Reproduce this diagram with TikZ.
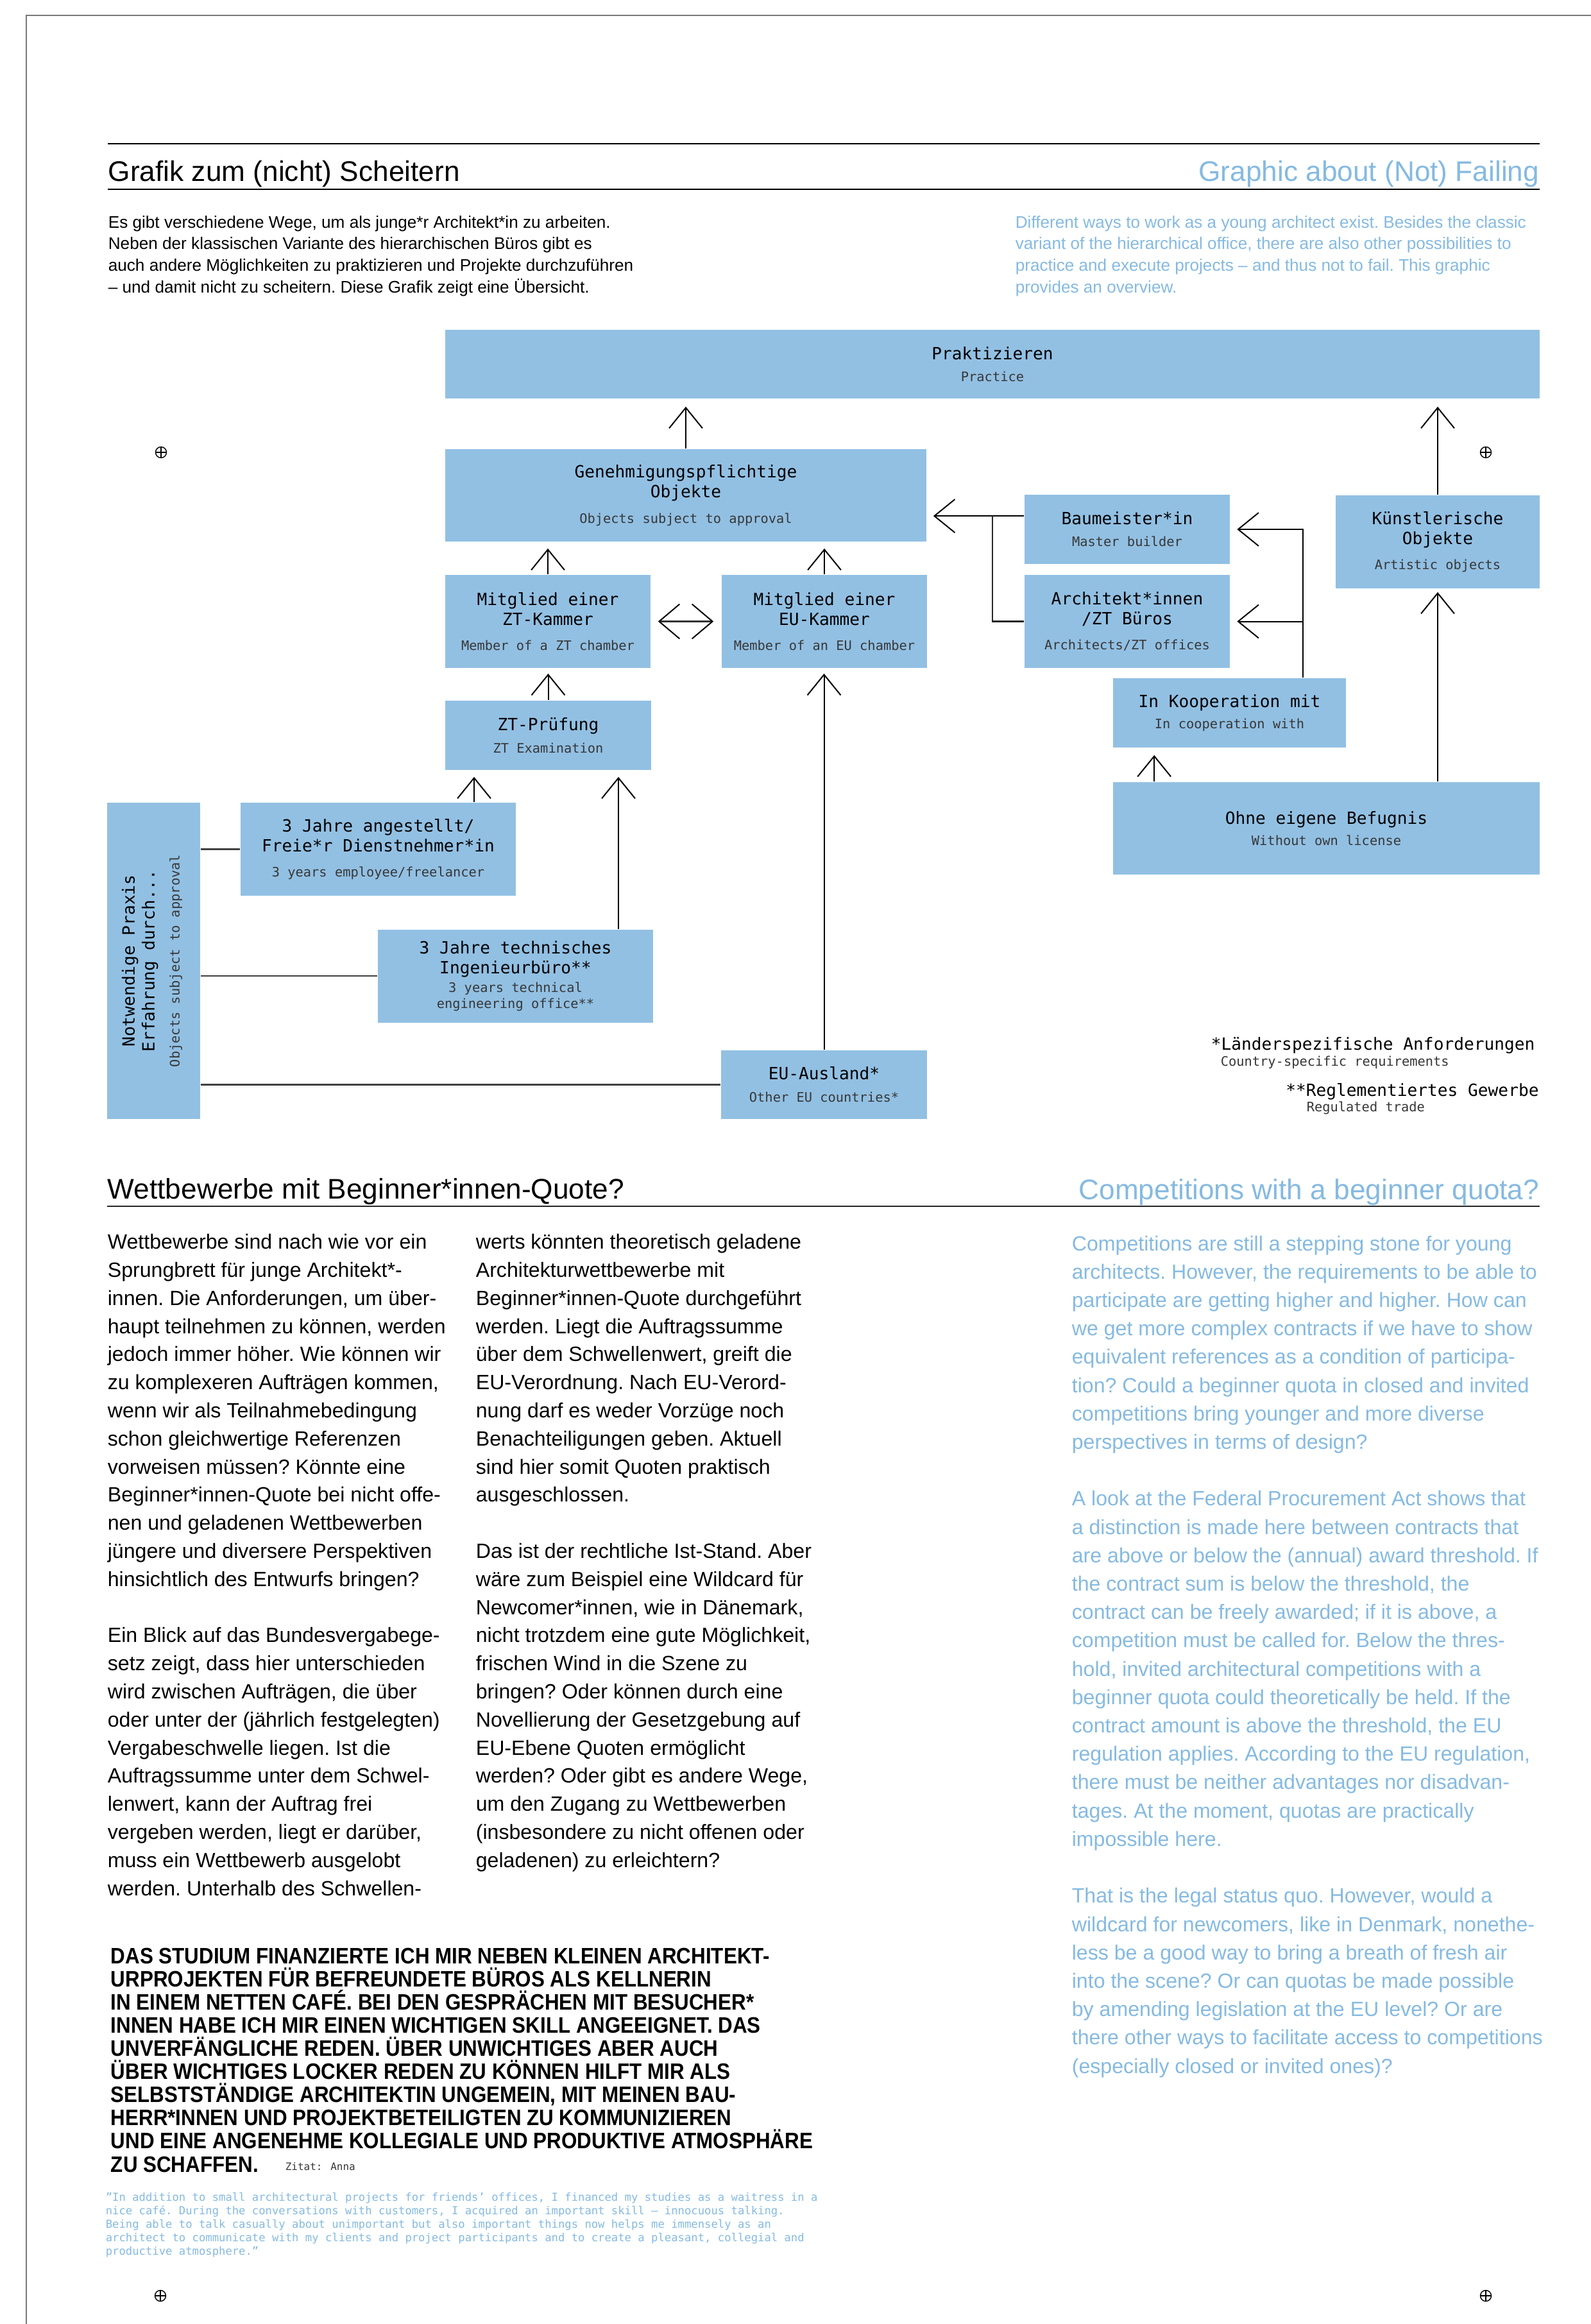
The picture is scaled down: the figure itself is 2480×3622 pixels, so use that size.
\documentclass[tikz,border=0pt]{standalone}
\usepackage{fontspec}
\setmainfont{Liberation Sans}
\newfontfamily\monof{DejaVu Sans Mono}
\newfontfamily\handf[FakeStretch=0.9]{Liberation Sans}
\usetikzlibrary{arrows.meta,calc}
\newdimen\PX \PX=0.2409pt
\definecolor{boxblue}{RGB}{146,192,227}
\definecolor{engblue}{RGB}{133,186,225}
\definecolor{subgray}{RGB}{55,55,55}
\definecolor{framegray}{RGB}{120,120,120}
\newcommand\nmain{\monof\fontsize{6.31pt}{7.47pt}\selectfont}
\newcommand\nsub{\monof\fontsize{4.91pt}{5.9pt}\selectfont}
\newcommand\sublab[1]{{\nsub\color{subgray}#1}}
\newcommand\bodyfont{\frenchspacing\fontsize{7.74pt}{10.55pt}\selectfont}
\newcommand\bodyfonten{\frenchspacing\fontsize{7.74pt}{10.65pt}\selectfont}
\newcommand\introfont{\frenchspacing\fontsize{6.3pt}{8.17pt}\selectfont}
\newcommand\titlefont{\fontsize{10.65pt}{12pt}\selectfont}
\begin{document}
\begin{tikzpicture}[x=0.2409pt, y=-0.2409pt,
  box/.style={fill=boxblue, draw=none, inner sep=0pt, align=center, font=\nmain, text=black},
  arr/.style={draw=black, line width=0.48pt, -{Straight Barb[length=7.7pt,width=12.5pt]}},
  dbl/.style={draw=black!80, line width=0.63pt, {Straight Barb[length=7.7pt,width=13pt,line width=0.48pt,color=black]}-{Straight Barb[length=7.7pt,width=13pt,line width=0.48pt,color=black]}},
  conn/.style={draw=black!85, line width=0.58pt},
  conn2/.style={draw=black!75, line width=0.67pt},
  txt/.style={inner sep=0pt, anchor=base west},
  regmark/.style={circle, draw, line width=0.34pt, minimum size=17\PX, inner sep=0pt,
    path picture={\draw[line width=0.34pt] (path picture bounding box.north) -- (path picture bounding box.south) (path picture bounding box.west) -- (path picture bounding box.east);}}
]
\useasboundingbox (0,0) rectangle (2480,3622);
\fill[white] (0,0) rectangle (2480,3622);

% page frame
\draw[framegray, line width=0.53pt] (41,3622) -- (41,24) -- (2480,24);

% header rules
\draw[line width=0.6pt] (168,224) -- (2400,224);
\draw[line width=0.6pt] (168,295) -- (2400,295);

% titles
\node[txt, font=\titlefont] (t1) at (168,283) {Grafik zum (nicht) Scheitern};
\node[txt, anchor=base east, font=\titlefont, text=engblue] (t1e) at (2400,283) {Graphic about (Not) Failing};

% intro texts
\node[txt] (introde) at (168,355) {\parbox[t]{1000\PX}{\introfont\raggedright
Es gibt verschiedene Wege, um als junge*r Architekt*in zu arbeiten.\\
Neben der klassischen Variante des hierarchischen Büros gibt es\\
auch andere Möglichkeiten zu praktizieren und Projekte durchzuführen\\
– und damit nicht zu scheitern. Diese Grafik zeigt eine Übersicht.}};
\node[txt, text=engblue] (introen) at (1582,355) {\parbox[t]{1000\PX}{\introfont\raggedright
Different ways to work as a young architect exist. Besides the classic\\
variant of the hierarchical office, there are also other possibilities to\\
practice and execute projects – and thus not to fail. This graphic\\
provides an overview.}};

% registration marks
\node[regmark] (m1) at (251,705) {};
\node[regmark] (m2) at (2316,705) {};
\node[regmark] (m3) at (250,3578) {};
\node[regmark] (m4) at (2316,3578) {};

% diagram boxes
\node[box, minimum width=1706\PX, minimum height=107\PX] (prak) at (1547,567.5) {Praktizieren\\[0.7pt]\sublab{Practice}};
\node[box, minimum width=750\PX, minimum height=144\PX] (gen) at (1069,772) {Genehmigungspflichtige\\Objekte\\[2.2pt]\sublab{Objects subject to approval}};
\node[box, minimum width=320\PX, minimum height=145\PX] (ztk) at (854,968.5) {Mitglied einer\\ZT-Kammer\\[2pt]\sublab{Member of a ZT chamber}};
\node[box, minimum width=320\PX, minimum height=145\PX] (euk) at (1285,968.5) {Mitglied einer\\EU-Kammer\\[2pt]\sublab{Member of an EU chamber}};
\node[box, minimum width=321\PX, minimum height=108\PX] (ztp) at (854.5,1146) {ZT-Prüfung\\[1pt]\sublab{ZT Examination}};
\node[box, minimum width=320\PX, minimum height=108\PX] (bau) at (1757,825) {Baumeister*in\\[0.7pt]\sublab{Master builder}};
\node[box, minimum width=320\PX, minimum height=145\PX] (arch) at (1757,968.5) {Architekt*innen\\/ZT Büros\\[1.9pt]\sublab{Architects/ZT offices}};
\node[box, minimum width=318\PX, minimum height=145\PX] (kue) at (2241,844.5) {Künstlerische\\Objekte\\[1.9pt]\sublab{Artistic objects}};
\node[box, minimum width=363\PX, minimum height=108\PX] (koop) at (1916.5,1111) {In Kooperation mit\\[0.6pt]\sublab{In cooperation with}};
\node[box, minimum width=665\PX, minimum height=144\PX] (ohne) at (2067.5,1291) {Ohne eigene Befugnis\\[0.6pt]\sublab{Without own license}};
\node[box, minimum width=145\PX, minimum height=493\PX] (notw) at (239.5,1497.5) {};
\node[rotate=90, font=\nmain, align=center, inner sep=0pt] (notwtxt) at (237,1497.5) {Notwendige Praxis\\Erfahrung durch...\\[1.9pt]\sublab{Objects subject to approval}};
\node[box, minimum width=429\PX, minimum height=145\PX] (ang) at (589.5,1323.5) {3 Jahre angestellt/\\Freie*r Dienstnehmer*in\\[1.9pt]\sublab{3 years employee/freelancer}};
\node[box, minimum width=429\PX, minimum height=145\PX] (tech) at (803.5,1521) {3 Jahre technisches\\Ingenieurbüro**\\[-0.5pt]\sublab{3 years technical}\\[-1.45pt]\sublab{engineering office**}};
\node[box, minimum width=321\PX, minimum height=107\PX] (eua) at (1284.5,1690.5) {EU-Ausland*\\[1pt]\sublab{Other EU countries*}};

% footnotes
\node[txt, font=\nmain] (fn1) at (1887,1636) {*Länderspezifische Anforderungen};
\node[txt, font=\nsub, text=subgray] (fn1e) at (1902,1661) {Country-specific requirements};
\node[txt, font=\nmain] (fn2) at (2003.5,1708) {**Reglementiertes Gewerbe};
\node[txt, font=\nsub, text=subgray] (fn2e) at (2036,1732.5) {Regulated trade};

% connectors
\coordinate (angup) at ($(ang.north)+(149.5,0)$);
\coordinate (techup) at ($(tech.north)+(160.5,0)$);
\coordinate (ohneup) at ($(ohne.north west)+(65,0)$);
\coordinate (bauin) at ($(bau.north west)+(0,34)$);
\coordinate (junc) at ($(bauin)+(-49.4,0)$);
\coordinate (koopup) at ($(koop.north)+(114.5,0)$);

\draw[arr, shorten >=2.89pt] (gen.north) -- (gen.north |- prak.south);
\draw[arr, shorten >=2.41pt] (ztk.north) -- (ztk.north |- gen.south);
\draw[arr, shorten >=2.41pt] (euk.north) -- (euk.north |- gen.south);
\draw[arr, shorten >=1.93pt] (ztp.north) -- (ztp.north |- ztk.south);
\draw[arr, shorten >=1.93pt] (eua.north) -- (eua.north |- euk.south);
\draw[arr, shorten >=2.41pt] (angup) -- (angup |- ztp.south);
\draw[arr, shorten >=2.41pt] (techup) -- (techup |- ztp.south);
\draw[arr, shorten >=2.89pt] (kue.north) -- (kue.north |- prak.south);
\draw[arr, shorten >=1.2pt] (ohne.north -| kue.south) -- (kue.south);
\draw[arr, shorten >=2.65pt] (ohneup) -- (ohneup |- koop.south);
\draw[dbl, shorten <=2.65pt, shorten >=2.89pt] (ztk.east) -- (euk.west);

\draw[arr, shorten >=2.41pt] (bauin) -- (bauin -| gen.east);
\draw[conn] (junc) |- (arch.west);
\draw[arr, shorten >=2.53pt] (koopup) |- (bau.east);
\draw[arr, shorten >=2.53pt] (koopup |- arch.east) -- (arch.east);

\draw[conn2] (notw.east |- ang.west) -- (ang.west);
\draw[conn2] (notw.east |- tech.west) -- (tech.west);
\draw[conn2] (notw.east |- eua.west) -- (eua.west);

% section 2
\draw[line width=0.5pt, black!85] (167,1880) -- (2400,1880);
\node[txt, font=\titlefont] (t2) at (167,1868) {Wettbewerbe mit Beginner*innen-Quote?};
\node[txt, anchor=base east, font=\titlefont, text=engblue] (t2e) at (2400,1869) {Competitions with a beginner quota?};

\node[txt] (de1) at (167,1946.8) {\parbox[t]{700\PX}{\bodyfont\raggedright
Wettbewerbe sind nach wie vor ein\\
Sprungbrett für junge Architekt*-\\
innen. Die Anforderungen, um über-\\
haupt teilnehmen zu können, werden\\
jedoch immer höher. Wie können wir\\
zu komplexeren Aufträgen kommen,\\
wenn wir als Teilnahmebedingung\\
schon gleichwertige Referenzen\\
vorweisen müssen? Könnte eine\\
Beginner*innen-Quote bei nicht offe-\\
nen und geladenen Wettbewerben\\
jüngere und diversere Perspektiven\\
hinsichtlich des Entwurfs bringen?\\[10.55pt]
Ein Blick auf das Bundesvergabege-\\
setz zeigt, dass hier unterschieden\\
wird zwischen Aufträgen, die über\\
oder unter der (jährlich festgelegten)\\
Vergabeschwelle liegen. Ist die\\
Auftragssumme unter dem Schwel-\\
lenwert, kann der Auftrag frei\\
vergeben werden, liegt er darüber,\\
muss ein Wettbewerb ausgelobt\\
werden. Unterhalb des Schwellen-}};

\node[txt] (de2) at (741,1946.8) {\parbox[t]{750\PX}{\bodyfont\raggedright
werts könnten theoretisch geladene\\
Architekturwettbewerbe mit\\
Beginner*innen-Quote durchgeführt\\
werden. Liegt die Auftragssumme\\
über dem Schwellenwert, greift die\\
EU-Verordnung. Nach EU-Verord-\\
nung darf es weder Vorzüge noch\\
Benachteiligungen geben. Aktuell\\
sind hier somit Quoten praktisch\\
ausgeschlossen.\\[10.55pt]
Das ist der rechtliche Ist-Stand. Aber\\
wäre zum Beispiel eine Wildcard für\\
Newcomer*innen, wie in Dänemark,\\
nicht trotzdem eine gute Möglichkeit,\\
frischen Wind in die Szene zu\\
bringen? Oder können durch eine\\
Novellierung der Gesetzgebung auf\\
EU-Ebene Quoten ermöglicht\\
werden? Oder gibt es andere Wege,\\
um den Zugang zu Wettbewerben\\
(insbesondere zu nicht offenen oder\\
geladenen) zu erleichtern?}};

\node[txt, text=engblue] (en1) at (1670,1949) {\parbox[t]{800\PX}{\bodyfonten\raggedright
Competitions are still a stepping stone for young\\
architects. However, the requirements to be able to\\
participate are getting higher and higher. How can\\
we get more complex contracts if we have to show\\
equivalent references as a condition of participa-\\
tion? Could a beginner quota in closed and invited\\
competitions bring younger and more diverse\\
perspectives in terms of design?\\[10.65pt]
A look at the Federal Procurement Act shows that\\
a distinction is made here between contracts that\\
are above or below the (annual) award threshold. If\\
the contract sum is below the threshold, the\\
contract can be freely awarded; if it is above, a\\
competition must be called for. Below the thres-\\
hold, invited architectural competitions with a\\
beginner quota could theoretically be held. If the\\
contract amount is above the threshold, the EU\\
regulation applies. According to the EU regulation,\\
there must be neither advantages nor disadvan-\\
tages. At the moment, quotas are practically\\
impossible here.\\[10.65pt]
That is the legal status quo. However, would a\\
wildcard for newcomers, like in Denmark, nonethe-\\
less be a good way to bring a breath of fresh air\\
into the scene? Or can quotas be made possible\\
by amending legislation at the EU level? Or are\\
there other ways to facilitate access to competitions\\
(especially closed or invited ones)?}};

% handwritten quote
\node[txt] (hand) at (172,3060) {\parbox[t]{1400\PX}{\handf\bfseries\frenchspacing\fontsize{8.4pt}{8.7pt}\selectfont\raggedright
DAS STUDIUM FINANZIERTE ICH MIR NEBEN KLEINEN ARCHITEKT-\\
URPROJEKTEN FÜR BEFREUNDETE BÜROS ALS KELLNERIN\\
IN EINEM NETTEN CAFÉ. BEI DEN GESPRÄCHEN MIT BESUCHER*\\
INNEN HABE ICH MIR EINEN WICHTIGEN SKILL ANGEEIGNET. DAS\\
UNVERFÄNGLICHE REDEN. ÜBER UNWICHTIGES ABER AUCH\\
ÜBER WICHTIGES LOCKER REDEN ZU KÖNNEN HILFT MIR ALS\\
SELBSTSTÄNDIGE ARCHITEKTIN UNGEMEIN, MIT MEINEN BAU-\\
HERR*INNEN UND PROJEKTBETEILIGTEN ZU KOMMUNIZIEREN\\
UND EINE ANGENEHME KOLLEGIALE UND PRODUKTIVE ATMOSPHÄRE\\
ZU SCHAFFEN.}};
\node[txt, font=\monof\fontsize{3.85pt}{4.6pt}\selectfont, text=subgray] (zit) at (444,3382) {Zitat: Anna};

\node[txt, text=engblue] (quote) at (164,3430) {\parbox[t]{1400\PX}{\monof\frenchspacing\fontsize{4.15pt}{5.1pt}\selectfont\raggedright
”In addition to small architectural projects for friends’ offices, I financed my studies as a waitress in a\\
nice café. During the conversations with customers, I acquired an important skill – innocuous talking.\\
Being able to talk casually about unimportant but also important things now helps me immensely as an\\
architect to communicate with my clients and project participants and to create a pleasant, collegial and\\
productive atmosphere.”}};
\end{tikzpicture}
\end{document}
